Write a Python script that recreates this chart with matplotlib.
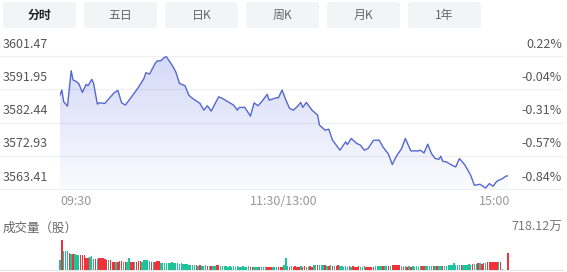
import numpy as np
import matplotlib
matplotlib.use("Agg")
import matplotlib.pyplot as plt
from matplotlib.patches import FancyBboxPatch
from matplotlib.transforms import blended_transform_factory

plt.rcParams["font.family"] = ["Noto Sans CJK SC", "DejaVu Sans"]

# tabs
tabs = ["分时", "五日", "日K", "周K", "月K", "1年"]

# y axis labels (price / change)
price_ticks = [3601.47, 3591.95, 3582.44, 3572.93, 3563.41]
pct_ticks = ["0.22%", "-0.04%", "-0.31%", "-0.57%", "-0.84%"]
time_labels = ["09:30", "11:30/13:00", "15:00"]
time_pos = [0, 120, 240]

# price line (minute index from 09:30, price)
minutes = [0, 1, 2, 4, 6, 7, 8, 10, 12, 14, 15, 17, 18, 20, 21, 24, 26, 29, 31, 33,
           35, 37, 39, 42, 45, 46, 48, 51, 52, 54, 56, 57, 60, 62, 64, 67, 69, 71, 75, 77,
           79, 81, 85, 87, 90, 93, 95, 96, 99, 102, 104, 106, 108, 111, 112, 116, 117, 119, 121, 123,
           125, 127, 129, 130, 132, 135, 138, 139, 142, 144, 146, 150, 153, 154, 156, 159, 161, 163, 165, 168,
           171, 173, 176, 178, 180, 183, 185, 187, 188, 192, 193, 195, 197, 199, 201, 203, 204, 205, 207, 210,
           212, 214, 217, 220, 222, 225, 228, 230, 232, 234, 237, 239, 240]
prices = [3590.28, 3591.72, 3588.36, 3587.13, 3597.25, 3594.59, 3594.39, 3593.64, 3591.06, 3593.35,
          3592.95, 3594.79, 3593.64, 3587.70, 3588.08, 3587.90, 3589.14, 3590.94, 3591.63, 3588.08,
          3587.42, 3588.85, 3590.28, 3592.49, 3595.07, 3596.68, 3596.31, 3599.38, 3600.04, 3600.12,
          3601.10, 3601.27, 3598.89, 3596.97, 3593.64, 3592.95, 3590.28, 3589.34, 3587.90, 3585.98,
          3587.22, 3585.70, 3589.80, 3589.34, 3588.36, 3587.42, 3585.98, 3586.76, 3586.76, 3584.26,
          3588.08, 3587.22, 3588.36, 3590.49, 3588.85, 3589.51, 3589.51, 3591.72, 3588.85, 3586.47,
          3585.98, 3586.93, 3588.19, 3586.76, 3588.19, 3585.98, 3584.55, 3581.68, 3580.25, 3580.53,
          3577.38, 3574.51, 3576.89, 3576.15, 3577.87, 3576.43, 3575.94, 3574.51, 3575.00, 3577.38,
          3577.38, 3575.46, 3573.36, 3570.41, 3572.59, 3575.00, 3577.87, 3575.46, 3574.31, 3574.31,
          3574.51, 3573.74, 3576.23, 3573.56, 3572.13, 3571.93, 3572.79, 3571.36, 3571.16, 3570.21,
          3569.72, 3572.13, 3570.21, 3567.34, 3564.47, 3564.76, 3563.70, 3564.96, 3564.19, 3565.62,
          3566.39, 3567.14, 3567.14]

# volume per minute (万股), 241 bars
vol = [240, 718.12, 455, 450, 445, 395, 390, 385, 380, 360, 355, 360, 360, 350, 290, 285, 300, 330, 270, 265,
       270, 285, 290, 280, 255, 250, 245, 250, 195, 190, 200, 190, 215, 210, 190, 185, 180, 290, 190, 185,
       180, 185, 215, 210, 190, 235, 240, 230, 225, 195, 190, 185, 210, 205, 170, 165, 170, 160, 165, 160,
       180, 175, 175, 160, 155, 160, 145, 140, 145, 125, 120, 120, 115, 110, 105, 110, 105, 100, 110, 105,
       100, 105, 100, 105, 130, 125, 95, 95, 90, 85, 80, 85, 80, 85, 80, 85, 80, 80, 85, 80,
       80, 85, 75, 70, 75, 70, 75, 70, 70, 75, 70, 70, 75, 70, 75, 70, 70, 75, 70, 72,
       120, 290, 85, 80, 85, 80, 85, 80, 80, 85, 80, 85, 80, 80, 85, 80, 120, 115, 120, 125,
       120, 115, 110, 105, 100, 110, 105, 100, 105, 110, 100, 85, 80, 85, 80, 85, 80, 85, 80, 80,
       85, 80, 80, 85, 80, 75, 72, 75, 72, 105, 100, 105, 100, 105, 100, 105, 100, 105, 120, 115,
       120, 125, 120, 85, 80, 85, 80, 85, 80, 85, 80, 85, 80, 85, 95, 90, 95, 90, 95, 100, 95,
       90, 95, 90, 95, 100, 95, 90, 120, 115, 120, 160, 120, 115, 120, 125, 120, 115, 120, 135,
       130, 135, 140, 135, 175, 160, 155, 160, 165, 185, 180, 185, 195, 190, 195, 200, 195, 20, 0,
       0, 410]
# r = up minute, g = down minute
updown = ("gr" "ggg" "rgrg" "ggr" "rr" "rr" "gg" "grg" "rrr" "rrgr" "rrgr" "rr" "grg" "g" "rrgr" "rr" "g"
          "gggg" "rgr" "rr" "gggggg" "ggg" "ggg" "ggg" "gggg" "rgrgggrgrgg" "rr" "ggg" "ggggggggggggg"
          "rrgggrgggrrrgggrrr" "g" "g" "grgrrrrgrrggrr" "ggrggg" "rgrgrgrrg" "ggggrgrrrrgggr" "rrrr"
          "ggggrggrg" "rrrrr" "grgrgrggggg" "rrggggrgrggrgg" "ggg" "g" "gggrggg" "ggrgg" "r" "grrg" "rrr"
          "rrrgr" "g" "gg" "r")
vol_max_label = "718.12万"

W, H = 567, 272
fig = plt.figure(figsize=(W / 100, H / 100), dpi=100)


def fx(x):
    return x / W


def fy(y):
    return 1 - y / H


# tab buttons
tab_left = [3, 84, 165, 246, 327, 408]
for i, t in enumerate(tabs):
    box = FancyBboxPatch((fx(tab_left[i]), fy(28)), fx(73), fy(2) - fy(28),
                         boxstyle="round,pad=0,rounding_size=0.008",
                         transform=fig.transFigure, facecolor="#f3f4f6", edgecolor="none")
    fig.patches.append(box)
    fig.text(fx(tab_left[i] + 36.5), fy(15), t, ha="center", va="center", fontsize=8.6,
             color="#222222" if i == 0 else "#666666", fontweight="bold" if i == 0 else "normal")

# main price axes
x0, x1 = 60, 508
ax = fig.add_axes([fx(x0), fy(189), fx(x1) - fx(x0), fy(56) - fy(189)])
ymin, ymax = price_ticks[-1], price_ticks[0]
ax.axis("off")

gx0 = (0 - x0) / (x1 - x0)
gx1 = (563 - x0) / (x1 - x0)
for v in price_ticks:
    ax.axhline(v, xmin=gx0, xmax=gx1, color="#f0f0f0", lw=0.9, clip_on=False, zorder=0)

poly = ax.fill_between(minutes, prices, ymin, color="none")
grad = np.zeros((100, 1, 4))
grad[:, 0, 0] = 90 / 255
grad[:, 0, 1] = 110 / 255
grad[:, 0, 2] = 225 / 255
grad[:, 0, 3] = np.linspace(0.26, 0.03, 100)
img = ax.imshow(grad, extent=[0, 240, ymin, ymax], aspect="auto", origin="upper", zorder=1)
img.set_clip_path(poly.get_paths()[0], transform=ax.transData)
ax.plot(minutes, prices, color="#5468d0", lw=1.0, zorder=2)
ax.set_xlim(0, 240)
ax.set_ylim(ymin, ymax)

tr = blended_transform_factory(ax.transAxes, ax.transData)
for v, p in zip(price_ticks, pct_ticks):
    ax.annotate(f"{v:.2f}", xy=(gx0 + 3 / (x1 - x0), v), xycoords=tr, xytext=(0, 12),
                textcoords="offset pixels", ha="left", va="center", fontsize=9, color="#555555")
    ax.annotate(p, xy=((562 - x0) / (x1 - x0), v), xycoords=tr, xytext=(0, 12),
                textcoords="offset pixels", ha="right", va="center", fontsize=9, color="#555555")

for t, m, ha in zip(time_labels, time_pos, ["left", "center", "right"]):
    ax.annotate(t, xy=(m, ymin), xycoords="data", xytext=(2 if ha == "right" else 0, -12),
                textcoords="offset pixels", ha=ha, va="center", fontsize=9, color="#999999")

# volume axes
vax = fig.add_axes([fx(x0), fy(270), fx(x1) - fx(x0), fy(240) - fy(270)])
vax.axis("off")
colors = ["#f2313b" if c == "r" else "#1ec399" for c in updown]
vax.bar(np.arange(len(vol)), vol, width=0.8, color=colors, clip_on=False)
vax.set_xlim(0, 240)
vax.set_ylim(0, max(vol))
vax.axhline(0, xmin=gx0, xmax=gx1, color="#e6e6e6", lw=0.8, clip_on=False, zorder=0)

fig.text(fx(3), fy(228), "成交量（股）", ha="left", va="center", fontsize=9, color="#666666")
fig.text(fx(562), fy(227), vol_max_label, ha="right", va="center", fontsize=9, color="#777777")

fig.savefig("out.png", dpi=100)
